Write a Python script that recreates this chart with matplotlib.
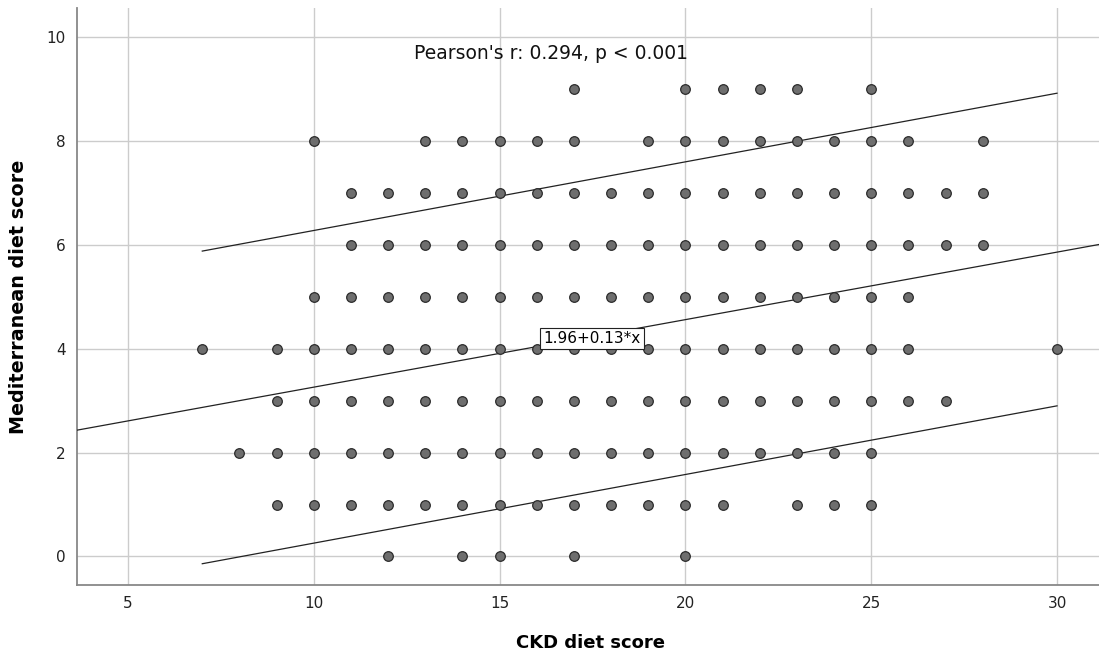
import matplotlib
matplotlib.use('Agg')
import matplotlib.pyplot as plt

# points, one list of CKD scores per Mediterranean score row
rows = {
    9: [17, 20, 21, 22, 23, 25],
    8: [10, 13, 14, 15, 16, 17, 19, 20, 21, 22, 23, 24, 25, 26, 28],
    7: [11, 12, 13, 14, 15, 16, 17, 18, 19, 20, 21, 22, 23, 24, 25, 26, 27, 28],
    6: [11, 12, 13, 14, 15, 16, 17, 18, 19, 20, 21, 22, 23, 24, 25, 26, 27, 28],
    5: [10, 11, 12, 13, 14, 15, 16, 17, 18, 19, 20, 21, 22, 23, 24, 25, 26],
    4: [7, 9, 10, 11, 12, 13, 14, 15, 16, 17, 18, 19, 20, 21, 22, 23, 24, 25, 26, 30],
    3: [9, 10, 11, 12, 13, 14, 15, 16, 17, 18, 19, 20, 21, 22, 23, 24, 25, 26, 27],
    2: [8, 9, 10, 11, 12, 13, 14, 15, 16, 17, 18, 19, 20, 21, 22, 23, 24, 25],
    1: [9, 10, 11, 12, 13, 14, 15, 16, 17, 18, 19, 20, 21, 23, 24, 25],
    0: [12, 14, 15, 17, 20],
}

fit_intercept = 1.96
fit_slope = 0.13

# prediction interval endpoints
pi_x = [7, 30]
pi_upper = [5.88, 8.92]
pi_lower = [-0.14, 2.90]

x_ticks = [5, 10, 15, 20, 25, 30]
y_ticks = [0, 2, 4, 6, 8, 10]
x_lim = (3.63, 31.13)
y_lim = (-0.55, 10.56)

xs = []
ys = []
for yv, xlist in rows.items():
    for xv in xlist:
        xs.append(xv)
        ys.append(yv)

fig = plt.figure(figsize=(10.99, 6.53), dpi=100)
ax = fig.add_axes([0.0701, 0.1041, 0.9299, 0.8836])

ax.set_xlim(*x_lim)
ax.set_ylim(*y_lim)
ax.set_xticks(x_ticks)
ax.set_yticks(y_ticks)
ax.grid(True, color='#cccccc', linewidth=1.0)
ax.set_axisbelow(True)
ax.tick_params(length=0, labelsize=11, colors='#222222', pad=8)

for side in ['top', 'right']:
    ax.spines[side].set_visible(False)
for side in ['left', 'bottom']:
    ax.spines[side].set_color('#888888')
    ax.spines[side].set_linewidth(1.3)

fx = list(x_lim)
fy = [fit_intercept + fit_slope * v for v in fx]
ax.plot(fx, fy, color='#222222', linewidth=0.9, zorder=3)
ax.plot(pi_x, pi_upper, color='#222222', linewidth=0.9, zorder=3)
ax.plot(pi_x, pi_lower, color='#222222', linewidth=0.9, zorder=3)

ax.scatter(xs, ys, s=48, c='#6e6e6e', edgecolors='#2b2b2b', linewidths=0.9, zorder=4)

ax.text(17.49, 4.2, '1.96+0.13*x', fontsize=11, ha='center', va='center', zorder=5,
        bbox=dict(boxstyle='square,pad=0.2', facecolor='white', edgecolor='#222222', linewidth=0.8))
ax.text(12.7, 9.69, "Pearson's r: 0.294, p < 0.001", fontsize=13.5, ha='left', va='center',
        color='#111111')

ax.set_xlabel('CKD diet score', fontsize=13, fontweight='bold')
ax.set_ylabel('Mediterranean diet score', fontsize=13.8, fontweight='bold')
ax.xaxis.set_label_coords(0.502, -0.085)
ax.yaxis.set_label_coords(-0.048, 0.5)

fig.savefig('out.png', dpi=100)
